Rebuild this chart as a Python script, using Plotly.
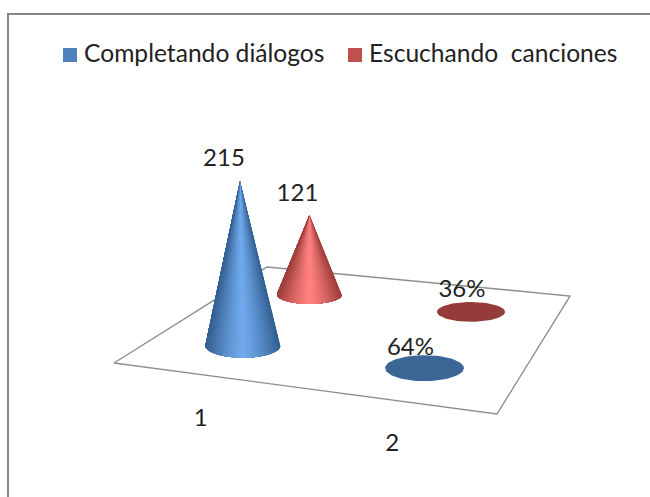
import numpy as np
import plotly.graph_objects as go

# data
categories = ["1", "2"]
series_names = ["Completando diálogos", "Escuchando \u00a0canciones"]
serie_azul = [215, 0.64]
serie_roja = [121, 0.36]
labels_azul = ["215", "64%"]
labels_rojo = ["121", "36%"]

W, H = 650, 497

# floor of the fake 3d chart, pixels: front left, front right, back right, back left
FL, FR, BR, BL = (114, 363), (497, 414), (570, 296), (267, 267)

# style per series: legend colour, dark edge, light centre, flat disc colour
estilos = [
    dict(legend="#4f81bd", dark=(52, 96, 146), light=(112, 170, 236), flat="#3c6695"),
    dict(legend="#c0504d", dark=(158, 62, 60), light=(255, 130, 128), flat="#953b39"),
]


def floor_xy(u, v):
    # bilinear position on the floor, u along categories, v into the depth
    fx, fy = FL[0] + (FR[0] - FL[0]) * u, FL[1] + (FR[1] - FL[1]) * u
    bx, by = BL[0] + (BR[0] - BL[0]) * u, BL[1] + (BR[1] - BL[1]) * u
    return fx + (bx - fx) * v, fy + (by - fy) * v


def mix(a, b, t):
    return "rgb(%d,%d,%d)" % tuple(a[i] + (b[i] - a[i]) * t for i in range(3))


fig = go.Figure()


def poly(xs, ys, color):
    fig.add_trace(go.Scatter(x=xs, y=ys, mode="lines", fill="toself", fillcolor=color,
                             line=dict(width=0), hoverinfo="skip", showlegend=False))


# chart frame, runs off the right and bottom of the picture
fig.add_trace(go.Scatter(x=[8, 8, W], y=[H, 14, 14], mode="lines", line=dict(color="#868686", width=2),
                         hoverinfo="skip", showlegend=False))

# floor
fx = [FL[0], FR[0], BR[0], BL[0], FL[0]]
fy = [FL[1], FR[1], BR[1], BL[1], FL[1]]
fig.add_trace(go.Scatter(x=fx, y=fy, mode="lines", line=dict(color="#8e8e8e", width=1.4),
                         hoverinfo="skip", showlegend=False))


def draw_cone(u, v, value, est):
    cx, cy = floor_xy(u, v)
    cy -= 5  # cones sit a little above the middle of their floor cell
    s = (1 + 0.1 * (u - 0.25)) * (1 - 0.27 * (v - 0.25))
    rx = 37.5 * s
    ry = rx * (0.33 - 0.08 * (v - 0.25))
    h = value * 0.763 * (1 - 0.28 * (v - 0.25))
    if h <= ry:
        t = np.linspace(0, 2 * np.pi, 80)
        poly(cx + rx * np.cos(t), cy + ry * np.sin(t), est["flat"])
        return cx, cy
    a = np.arcsin(ry / h)
    t = np.linspace(-a, np.pi + a, 61)
    tipx = cx + (cx - 311) * h * 0.00027
    tipy = cy - h
    px, py = cx + rx * np.cos(t), cy + ry * np.sin(t)
    # each slice also covers the rest of the cone, the next one paints over it, so no seams
    for i in range(len(t) - 1):
        shade = 1 - abs(np.cos((t[i] + t[i + 1]) / 2)) ** 1.3
        poly([tipx, *px[i:], tipx], [tipy, *py[i:], tipy], mix(est["dark"], est["light"], shade))
    return tipx, tipy


us = [0.25, 0.75]
vs = [0.25, 0.75]
label_dx = [[-16, -14], [-12, -9]]
label_dy = [[-21, -19], [-20, -21]]

textos = []
# back row first, the front cones cover it
for k in [1, 0]:
    vals = serie_azul if k == 0 else serie_roja
    labs = labels_azul if k == 0 else labels_rojo
    for i, val in enumerate(vals):
        x0, y0 = draw_cone(us[i], vs[k], val, estilos[k])
        textos.append((x0 + label_dx[k][i], y0 + label_dy[k][i], labs[i]))

fig.add_trace(go.Scatter(x=[t[0] for t in textos], y=[t[1] for t in textos], text=[t[2] for t in textos],
                         mode="text", textposition="middle center",
                         textfont=dict(family="Lato", size=24, color="#222222"),
                         hoverinfo="skip", showlegend=False))

# category labels under the front edge
cat_x = [floor_xy(u, 0)[0] - 9 for u in us]
cat_y = [floor_xy(u, 0)[1] + 44 for u in us]
fig.add_trace(go.Scatter(x=cat_x, y=cat_y, text=categories, mode="text", textposition="middle center",
                         textfont=dict(family="Lato", size=24, color="#222222"),
                         hoverinfo="skip", showlegend=False))

# legend, drawn by hand since the native one keeps the text too far from the key
legend_x = [70, 355]
legend_y = 55
for name, est, lx in zip(series_names, estilos, legend_x):
    fig.add_trace(go.Scatter(x=[lx], y=[legend_y], mode="markers",
                             marker=dict(symbol="square", size=14, color=est["legend"]),
                             hoverinfo="skip", showlegend=False))
    fig.add_trace(go.Scatter(x=[lx + 14], y=[legend_y + 1], mode="text", text=[name], textposition="middle right",
                             textfont=dict(family="Lato", size=24.6, color="#222222"),
                             hoverinfo="skip", showlegend=False))

fig.update_layout(
    width=W, height=H,
    margin=dict(l=0, r=0, t=0, b=0),
    paper_bgcolor="white", plot_bgcolor="white",
    xaxis=dict(range=[0, W], visible=False),
    yaxis=dict(range=[H, 0], visible=False),
)

fig.write_html("out.html", config=dict(displayModeBar=False), post_script="document.body.style.margin='0';")
